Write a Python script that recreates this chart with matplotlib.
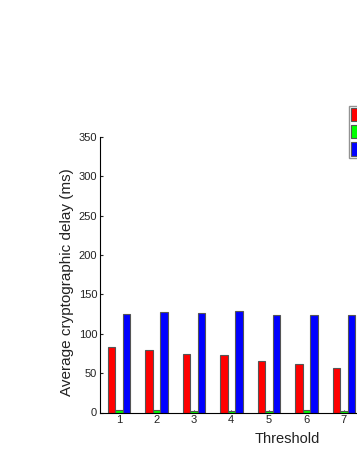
import matplotlib
matplotlib.use("Agg")
import matplotlib.pyplot as plt
import numpy as np

plt.rcParams['font.family'] = ['Liberation Sans', 'DejaVu Sans']

thresholds = [1, 2, 3, 4, 5, 6, 7]
series_red = [83, 79, 74, 73, 66, 62, 56]
series_green = [3.2, 3, 2.5, 2.5, 2.5, 3, 2.3]
series_blue = [125.5, 127.5, 126.5, 128.5, 124.5, 124, 124.5]
colors = ['#ff0000', '#00ff00', '#0000ff']
yticks = [0, 50, 100, 150, 200, 250, 300, 350]

W, H = 357, 462
fig = plt.figure(figsize=(W / 100, H / 100), dpi=100)
# axes extends beyond right edge of figure (reference is cropped)
ax_left = 100 / W
ax_bottom = (H - 412.5) / H
ax_h = (412.5 - 137) / H
ax_w = 375 / W
ax = fig.add_axes([ax_left, ax_bottom, ax_w, ax_h])

x = np.array(thresholds, dtype=float)
bw = 0.2
handles = []
for i, (vals, c) in enumerate(zip([series_red, series_green, series_blue], colors)):
    b = ax.bar(x + (i - 1) * bw, vals, width=bw, color=c, edgecolor='#555555',
               linewidth=0.8, zorder=2)
    handles.append(b)

ax.set_xlim(0.5, 10.5)
ax.set_ylim(0, 350)
ax.set_yticks(yticks)
ax.set_xticks(thresholds)
ax.tick_params(direction='in', length=2, labelsize=8, colors='#222222', pad=2)
for s in ['top', 'right']:
    ax.spines[s].set_visible(False)
for s in ['left', 'bottom']:
    ax.spines[s].set_color('black')
    ax.spines[s].set_linewidth(0.8)

ax.set_ylabel('Average cryptographic delay (ms)', fontsize=11, color='#222222')
ax.yaxis.set_label_coords((66.5 - 100) / 375, (412.5 - 282) / 275.5)
ax.set_xlabel('Threshold', fontsize=10.5, color='#222222')
ax.xaxis.set_label_coords((287.5 - 100) / 375, (412.5 - 439) / 275.5)
ax.xaxis.label.set_va('center')
ax.yaxis.label.set_va('center')

# legend: labels are cropped out of view in the reference
leg = fig.legend(handles, ['', '', ''], loc='upper left',
                 bbox_to_anchor=(349 / W, 1 - 105.7 / H), bbox_transform=fig.transFigure,
                 borderaxespad=0, fontsize=9, frameon=True, fancybox=False, edgecolor='#777777',
                 handlelength=2.5, handleheight=1.28, borderpad=0.18, labelspacing=0.25)
leg.get_frame().set_linewidth(1.0)

fig.savefig('out.png', dpi=100)
